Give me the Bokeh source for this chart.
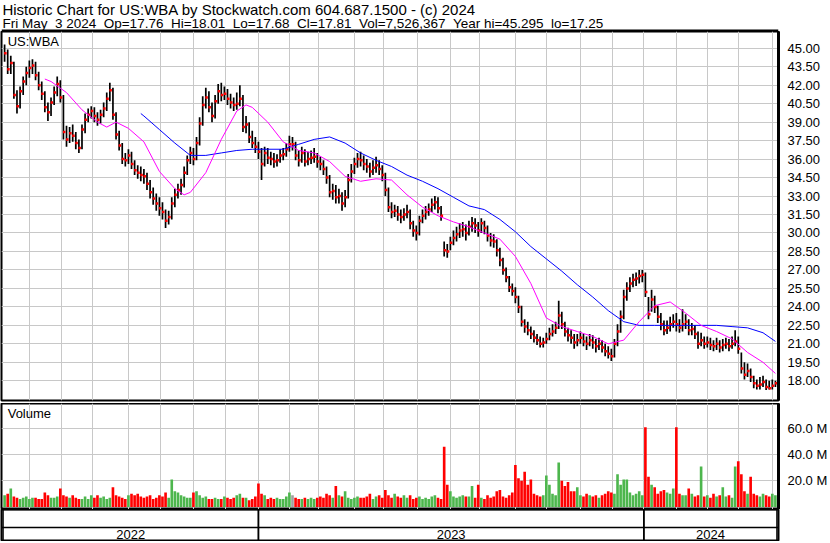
from bokeh.plotting import figure
from bokeh.models import (FixedTicker, Range1d, Label, ColumnDataSource, Span,
                          NumeralTickFormatter)
from bokeh.layouts import column
from bokeh.transform import dodge
from bokeh.embed import file_html
from bokeh.resources import INLINE
from bokeh.core.properties import value
import numpy as np

# ---------------- data ----------------
header_line1 = "Historic Chart for US:WBA by Stockwatch.com 604.687.1500 - (c) 2024"
header_line2 = "Fri May  3 2024  Op=17.76  Hi=18.01  Lo=17.68  Cl=17.81  Vol=7,526,367  Year hi=45.295  lo=17.25"
symbol = "US:WBA"
volume_title = "Volume"

years = ["2022", "2023", "2024"]
months_per_year = [8, 12, 5]
# trading days per month shown (May 2022 .. May 2024)
month_days = [17, 21, 20, 23, 21, 21, 21, 21,
              20, 19, 23, 19, 22, 21, 19, 23, 20, 22, 21, 20,
              21, 20, 20, 22, 3]
days_per_bar = 2

cl = [44.6, 43.3, 43.8, 41.2, 40.3, 41.5, 42.3, 43.0, 43.4, 43.6,
      42.8, 42.0, 41.3, 40.2, 39.8, 40.6, 41.4, 42.1, 41.0, 38.2,
      37.6, 38.1, 37.9, 37.3, 36.9, 38.4, 39.2, 39.6, 39.9, 39.5,
      39.2, 39.6, 40.1, 40.9, 41.6, 39.6, 38.0, 37.1, 36.0, 35.9,
      36.3, 35.6, 35.1, 34.9, 34.7, 34.6, 34.0, 33.3, 32.8, 32.4,
      32.0, 31.7, 31.0, 31.3, 32.4, 33.1, 33.5, 33.9, 34.9, 35.9,
      36.5, 36.0, 37.3, 38.9, 40.4, 41.0, 40.2, 39.5, 40.7, 41.5,
      41.2, 41.3, 40.9, 40.6, 40.4, 40.5, 40.9, 38.6, 38.8, 37.8,
      37.3, 37.0, 36.6, 35.6, 36.5, 36.1, 36.0, 35.8, 35.9, 36.3,
      36.4, 36.8, 37.2, 37.2, 36.3, 35.9, 36.5, 35.8, 36.0, 36.1,
      36.2, 35.8, 35.6, 35.2, 34.5, 33.3, 33.4, 32.9, 33.0, 32.4,
      32.9, 34.3, 35.0, 35.6, 36.0, 35.9, 35.6, 35.4, 35.0, 35.3,
      35.5, 35.2, 34.7, 33.5, 32.1, 31.7, 31.8, 31.5, 31.3, 31.5,
      31.7, 30.8, 30.2, 30.0, 31.0, 31.4, 31.7, 31.9, 32.3, 32.5,
      32.0, 31.4, 28.6, 28.5, 29.2, 29.6, 29.9, 30.2, 30.3, 30.0,
      30.5, 30.8, 30.6, 30.2, 30.8, 30.4, 29.8, 29.4, 29.3, 28.6,
      27.8, 27.0, 26.4, 25.6, 25.3, 24.8, 24.0, 22.8, 22.4, 22.1,
      21.8, 21.5, 21.3, 21.0, 21.1, 21.4, 21.8, 22.0, 22.3, 23.3,
      22.6, 22.0, 21.7, 21.5, 21.1, 21.3, 21.5, 21.2, 21.0, 21.3,
      21.1, 20.8, 21.0, 20.7, 20.4, 20.2, 20.0, 21.0, 22.0, 23.2,
      24.8, 25.5, 25.9, 26.2, 26.3, 26.5, 26.6, 25.2, 23.4, 24.6,
      24.0, 23.2, 22.6, 22.1, 22.3, 22.6, 22.8, 22.6, 22.3, 22.6,
      22.8, 22.1, 22.2, 21.8, 21.0, 21.3, 21.0, 21.1, 20.9, 20.8,
      21.0, 20.7, 20.9, 21.0, 20.8, 21.0, 21.2, 20.6, 19.0, 18.5,
      18.8, 18.3, 17.8, 17.6, 17.7, 17.9, 17.5, 17.4, 17.6, 17.81]

hi = [45.3, 44.9, 44.4, 43.9, 41.6, 41.9, 42.7, 43.5, 44.0, 44.1,
      43.9, 43.1, 42.3, 41.5, 40.6, 41.0, 41.9, 42.7, 42.4, 41.2,
      38.7, 38.6, 38.8, 38.2, 37.6, 38.8, 39.7, 40.1, 40.3, 40.2,
      39.8, 40.0, 40.6, 41.4, 42.2, 41.8, 39.8, 38.3, 37.3, 36.5,
      36.8, 36.6, 35.9, 35.5, 35.4, 35.2, 34.9, 34.3, 33.7, 33.2,
      32.9, 32.5, 31.9, 31.8, 32.9, 33.6, 34.0, 34.4, 35.4, 36.3,
      37.0, 36.9, 37.8, 39.4, 41.1, 41.8, 41.5, 40.6, 41.2, 42.1,
      42.2, 41.9, 41.7, 41.3, 41.0, 41.4, 42.0, 41.2, 39.5, 39.0,
      38.3, 37.8, 37.4, 36.9, 37.0, 36.9, 36.6, 36.5, 36.4, 36.8,
      36.9, 37.3, 37.9, 37.8, 37.4, 36.7, 37.0, 36.8, 36.6, 36.7,
      36.9, 36.5, 36.2, 35.9, 35.4, 34.7, 34.0, 33.9, 33.6, 33.3,
      33.5, 34.8, 35.6, 36.1, 36.5, 36.6, 36.3, 36.0, 35.7, 35.9,
      36.2, 35.9, 35.5, 34.9, 33.7, 32.5, 32.3, 32.2, 31.9, 32.0,
      32.3, 31.9, 31.0, 30.6, 31.4, 31.9, 32.2, 32.4, 32.8, 33.0,
      32.9, 32.2, 29.3, 29.1, 29.7, 30.2, 30.5, 30.8, 30.9, 30.7,
      31.0, 31.3, 31.2, 30.9, 31.2, 31.0, 30.6, 30.0, 29.9, 29.5,
      28.8, 28.0, 27.2, 26.5, 25.9, 25.6, 24.9, 24.1, 23.0, 22.8,
      22.4, 22.1, 21.8, 21.6, 21.5, 21.9, 22.3, 22.6, 22.8, 24.5,
      23.6, 22.8, 22.3, 22.1, 21.8, 21.8, 22.0, 21.8, 21.6, 21.8,
      21.7, 21.4, 21.5, 21.3, 21.0, 20.8, 20.6, 21.4, 22.6, 23.7,
      25.4, 26.0, 26.4, 26.7, 26.8, 27.0, 27.0, 26.8, 24.8, 25.4,
      24.9, 24.1, 23.5, 22.9, 22.9, 23.2, 23.4, 23.5, 23.0, 23.8,
      23.4, 23.0, 22.7, 22.5, 22.0, 21.9, 21.6, 21.6, 21.5, 21.3,
      21.5, 21.3, 21.4, 21.5, 21.4, 21.6, 22.1, 21.6, 20.3, 19.5,
      19.4, 19.0, 18.4, 18.1, 18.3, 18.4, 18.1, 18.0, 18.1, 18.01]

lo = [43.9, 42.9, 42.9, 40.9, 39.7, 40.1, 41.2, 42.0, 42.6, 42.9,
      42.4, 41.6, 40.8, 39.8, 39.1, 39.5, 40.4, 41.1, 40.6, 37.6,
      37.0, 37.3, 37.4, 36.8, 36.5, 36.8, 38.1, 39.0, 39.3, 39.0,
      38.7, 38.9, 39.4, 39.9, 40.7, 39.2, 37.6, 36.7, 35.6, 35.4,
      35.6, 35.2, 34.7, 34.4, 34.2, 34.0, 33.5, 32.8, 32.3, 31.8,
      31.4, 31.1, 30.4, 30.7, 31.1, 32.1, 32.8, 33.1, 33.7, 34.7,
      35.6, 35.5, 35.9, 37.1, 38.7, 40.1, 39.8, 39.0, 39.3, 40.5,
      40.7, 40.8, 40.4, 40.1, 39.9, 40.0, 40.3, 38.2, 38.1, 37.3,
      36.9, 36.5, 36.0, 34.3, 35.4, 35.6, 35.5, 35.3, 35.4, 35.7,
      35.9, 36.2, 36.6, 36.7, 35.9, 35.4, 35.7, 35.4, 35.5, 35.6,
      35.7, 35.3, 35.1, 34.7, 34.0, 32.9, 32.7, 32.4, 32.4, 31.8,
      32.1, 32.8, 34.1, 34.8, 35.3, 35.4, 35.1, 34.9, 34.5, 34.7,
      34.9, 34.7, 34.2, 33.0, 31.7, 31.2, 31.3, 31.0, 30.8, 31.0,
      31.2, 30.3, 29.7, 29.4, 29.8, 30.8, 31.1, 31.4, 31.7, 31.9,
      31.6, 31.0, 28.1, 28.0, 28.6, 29.0, 29.3, 29.6, 29.7, 29.4,
      29.8, 30.1, 30.0, 29.7, 30.0, 29.9, 29.3, 28.9, 28.8, 28.1,
      27.3, 26.6, 26.0, 25.2, 24.9, 24.3, 23.5, 22.4, 21.9, 21.7,
      21.4, 21.1, 20.9, 20.7, 20.7, 21.0, 21.3, 21.6, 21.8, 22.2,
      22.2, 21.6, 21.2, 21.0, 20.6, 20.8, 21.0, 20.8, 20.5, 20.8,
      20.6, 20.3, 20.5, 20.3, 20.0, 19.8, 19.6, 19.9, 20.8, 21.9,
      23.0, 24.5, 25.2, 25.6, 25.7, 25.9, 26.0, 24.8, 23.0, 23.6,
      23.5, 22.7, 22.1, 21.7, 21.8, 22.0, 22.3, 22.0, 21.9, 22.0,
      22.2, 21.7, 21.7, 21.4, 20.6, 20.8, 20.6, 20.7, 20.5, 20.4,
      20.5, 20.3, 20.4, 20.6, 20.4, 20.6, 20.8, 20.2, 18.6, 18.1,
      18.3, 17.9, 17.4, 17.3, 17.3, 17.5, 17.25, 17.3, 17.3, 17.5]

# volume, millions of shares
vol = [9, 10, 14, 8, 7, 6, 7, 8, 6, 7,
       7, 6, 6, 11, 9, 7, 7, 8, 14, 9,
       8, 7, 9, 7, 6, 6, 8, 6, 9, 7,
       9, 7, 8, 6, 7, 15, 9, 8, 7, 6,
       9, 10, 9, 10, 8, 7, 8, 9, 6, 7,
       9, 8, 11, 7, 21, 12, 11, 9, 8, 7,
       7, 11, 12, 9, 7, 8, 6, 6, 7, 6,
       6, 8, 7, 6, 7, 9, 10, 7, 7, 5,
       6, 8, 18, 10, 9, 6, 7, 6, 7, 6,
       6, 8, 11, 9, 7, 6, 6, 7, 6, 7,
       6, 7, 8, 7, 10, 9, 7, 16, 9, 8,
       12, 7, 6, 7, 8, 7, 7, 8, 10, 6,
       8, 9, 7, 13, 9, 7, 10, 8, 7, 9,
       7, 9, 6, 7, 8, 6, 7, 6, 8, 9,
       7, 6, 46, 17, 12, 8, 7, 8, 9, 8,
       8, 16, 7, 17, 7, 6, 9, 7, 8, 12,
       13, 8, 7, 9, 11, 32, 22, 20, 27, 17,
       21, 10, 9, 8, 9, 24, 17, 10, 9, 34,
       20, 16, 19, 12, 12, 15, 9, 8, 10, 9,
       8, 9, 7, 9, 10, 12, 11, 10, 25, 17,
       21, 21, 11, 9, 10, 12, 9, 61, 23, 17,
       15, 10, 12, 13, 11, 10, 14, 61, 10, 9,
       9, 14, 10, 8, 9, 31, 8, 9, 7, 10,
       8, 9, 15, 8, 9, 7, 31, 35, 25, 12,
       10, 23, 10, 9, 8, 10, 9, 8, 10, 9]

# moving averages (bar index -> value)
fast_bar = [13, 15, 20, 25, 30, 33, 36, 40, 45, 50, 55, 58, 60, 65, 70, 75, 78, 80, 85, 90,
            95, 100, 105, 110, 115, 120, 125, 130, 135, 140, 145, 150, 155, 160, 165, 170,
            175, 180, 185, 190, 195, 200, 205, 210, 215, 220, 225, 230, 235, 240, 245, 249]
fast_ma = [42.5, 42.3, 41.4, 40.0, 39.0, 38.6, 39.0, 38.5, 37.4, 35.0, 33.6, 33.1, 33.3, 34.9,
           37.6, 39.9, 40.4, 40.2, 39.0, 37.4, 36.7, 36.5, 35.8, 34.6, 34.2, 34.4, 34.3, 33.1,
           32.1, 31.4, 30.9, 30.5, 30.0, 29.5, 28.1, 25.9, 23.1, 22.4, 22.0, 21.6, 21.0, 21.3,
           22.8, 24.1, 24.4, 23.5, 22.5, 22.0, 21.4, 20.3, 19.5, 18.6]
slow_bar = [44, 45, 50, 55, 60, 65, 70, 75, 80, 85, 90, 95, 100, 105, 110, 115, 120, 125,
            130, 135, 140, 145, 150, 155, 160, 165, 170, 175, 180, 185, 190, 195, 200, 205,
            210, 215, 220, 225, 230, 235, 240, 245, 249]
slow_ma = [39.7, 39.5, 38.4, 37.3, 36.3, 36.3, 36.5, 36.7, 36.8, 36.8, 36.8, 37.2, 37.6, 37.8,
           37.3, 36.5, 35.9, 35.4, 34.7, 34.2, 33.6, 32.9, 32.2, 31.9, 31.1, 30.1, 28.9, 27.9,
           26.9, 25.8, 24.8, 23.7, 22.8, 22.5, 22.5, 22.5, 22.5, 22.5, 22.5, 22.4, 22.3, 21.9,
           21.2]

price_ticks = [18.0, 19.5, 21.0, 22.5, 24.0, 25.5, 27.0, 28.5, 30.0, 31.5, 33.0, 34.5,
               36.0, 37.5, 39.0, 40.5, 42.0, 43.5, 45.0]
vol_ticks = [20, 40, 60]

# ---------------- derived ----------------
n = len(cl)
assert len(hi) == n and len(lo) == n and len(vol) == n
assert len(fast_bar) == len(fast_ma) and len(slow_bar) == len(slow_ma)
total_days = sum(month_days)
xs = np.arange(n) * days_per_bar + days_per_bar / 2
colors = []
for i in range(n):
    if i == 0 or cl[i] > cl[i - 1]:
        colors.append("#4DB64D")
    elif cl[i] < cl[i - 1]:
        colors.append("#FF0000")
    else:
        colors.append("#A0A0A0")
src = ColumnDataSource(dict(x=xs, hi=hi, lo=lo, cl=cl, vol=vol, color=colors))

month_starts = list(np.cumsum(month_days)[:-1])
bounds = [0]
k = 0
for m in months_per_year:
    k += m
    bounds.append(int(np.sum(month_days[:k])))
year_left = bounds[:-1]
year_right = bounds[1:]
year_mid = [(a + b) / 2 for a, b in zip(year_left, year_right)]

FONT = "Liberation Sans"
W = 830
RB = 46
GRID = "#C8C8C8"
xr = Range1d(-1, total_days + 1)


def keep_spaces(s):
    return s.replace("  ", "\u00a0 ")


# ---------------- header ----------------
HH = 31
hdr = figure(width=W, height=HH, x_range=Range1d(0, W), y_range=Range1d(0, HH),
             output_backend="svg", toolbar_location=None, x_axis_location=None,
             y_axis_location=None, min_border=0)
hdr.outline_line_color = None
hdr.xgrid.visible = False
hdr.ygrid.visible = False
hdr.text(x=[1], y=[HH - 9.0], text=[keep_spaces(header_line1)],
         text_font=value(FONT), text_font_size="15px", text_color="black",
         text_baseline="alphabetic", text_align="left")
hdr.text(x=[1], y=[HH - 23.2], text=[keep_spaces(header_line2)],
         text_font=value(FONT), text_font_size="13.5px", text_color="black",
         text_baseline="alphabetic", text_align="left")
hdr.add_layout(Span(location=1, dimension="width", line_color="black", line_width=2))

# ---------------- price panel ----------------
p = figure(width=W, height=372, x_range=xr, y_range=Range1d(16.40, 46.36),
           output_backend="svg", toolbar_location=None, x_axis_location=None,
           y_axis_location="right", min_border_left=1, min_border_right=RB,
           min_border_top=0, min_border_bottom=3)
p.outline_line_color = "black"
p.outline_line_width = 2
p.yaxis.ticker = FixedTicker(ticks=price_ticks)
p.yaxis.formatter = NumeralTickFormatter(format="0.00")
p.xgrid.ticker = FixedTicker(ticks=month_starts)
for g in (p.xgrid, p.ygrid):
    g.grid_line_color = GRID
    g.grid_line_width = 1
ax = p.yaxis[0]
ax.axis_line_width = 3
ax.axis_line_color = "black"
ax.major_tick_line_color = None
ax.minor_tick_line_color = None
ax.major_label_text_font = FONT
ax.major_label_text_font_size = "13px"
ax.major_label_text_color = "black"
ax.major_label_standoff = 3

p.segment(x0="x", y0="lo", x1="x", y1="hi", source=src, line_color="black", line_width=1.7)
p.scatter(x=dodge("x", 0.5, range=p.x_range), y="cl", source=src, marker="square",
          size=2.5, fill_color="red", line_color=None)
p.line(x=np.array(slow_bar) * days_per_bar + days_per_bar / 2, y=slow_ma,
       line_color="#0000FF", line_width=1)
p.line(x=np.array(fast_bar) * days_per_bar + days_per_bar / 2, y=fast_ma,
       line_color="#FF00FF", line_width=1)
p.add_layout(Label(x=3, y=46.15, text=symbol, text_font=FONT, text_font_size="13px",
                   text_baseline="top", text_color="black"))

# ---------------- volume panel ----------------
v = figure(width=W, height=106, x_range=xr, y_range=Range1d(-2.0, 79.2),
           output_backend="svg", toolbar_location=None, x_axis_location=None,
           y_axis_location="right", min_border_left=1, min_border_right=RB,
           min_border_top=0, min_border_bottom=0)
v.outline_line_color = "black"
v.outline_line_width = 2
v.yaxis.ticker = FixedTicker(ticks=vol_ticks)
v.yaxis.major_label_overrides = {t: f"{t:.1f} M" for t in vol_ticks}
v.xgrid.ticker = FixedTicker(ticks=month_starts)
for g in (v.xgrid, v.ygrid):
    g.grid_line_color = GRID
    g.grid_line_width = 1
vax = v.yaxis[0]
vax.axis_line_width = 3
vax.axis_line_color = "black"
vax.major_tick_line_color = None
vax.minor_tick_line_color = None
vax.major_label_text_font = FONT
vax.major_label_text_font_size = "13px"
vax.major_label_text_color = "black"
vax.major_label_standoff = 3
v.vbar(x="x", top="vol", bottom=0, width=1.7, source=src, fill_color="color",
       line_color=None)
v.add_layout(Label(x=3, y=77.0, text=volume_title, text_font=FONT, text_font_size="13px",
                   text_baseline="top", text_color="black"))

# ---------------- year band ----------------
YH = 32
yb = figure(width=W, height=YH, x_range=xr, y_range=Range1d(0, YH),
            output_backend="svg", toolbar_location=None, x_axis_location=None,
            y_axis_location=None, min_border_left=1, min_border_right=RB,
            min_border_top=0, min_border_bottom=0)
yb.outline_line_color = "black"
yb.outline_line_width = 2
yb.xgrid.visible = False
yb.ygrid.visible = False
yb.quad(left=year_left, right=year_right, bottom=0, top=YH, fill_color=None,
        line_color="black", line_width=1.5)
yb.add_layout(Span(location=14, dimension="width", line_color="black", line_width=1.5))
yb.text(x=year_mid, y=7, text=years, text_align="center", text_baseline="middle",
        text_font=value(FONT), text_font_size="13px", text_color="black")

layout = column(hdr, p, v, yb, spacing=0)
open("out.html", "w").write(file_html(layout, INLINE))
